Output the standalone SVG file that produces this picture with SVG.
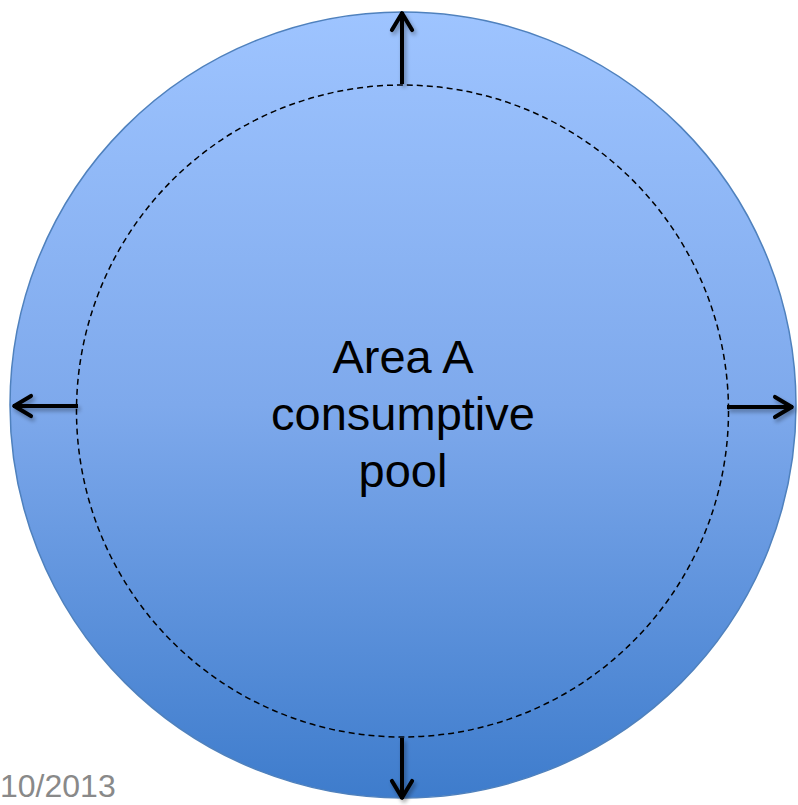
<svg xmlns="http://www.w3.org/2000/svg" width="798" height="805" viewBox="0 0 798 805">
  <defs>
    <linearGradient id="fill" x1="0" y1="0" x2="0" y2="1">
      <stop offset="0" stop-color="#9EC4FF"/>
      <stop offset="0.5" stop-color="#7EA9EC"/>
      <stop offset="1" stop-color="#3E7CCC"/>
    </linearGradient>
    <marker id="open" viewBox="0 0 12 12" refX="10.5" refY="6" markerWidth="7.2" markerHeight="7.2" markerUnits="strokeWidth" orient="auto">
      <path d="M3,1.8 L10,6 L3,10.2" fill="none" stroke="#000" stroke-width="1.7" stroke-linecap="round" stroke-linejoin="round"/>
    </marker>
    <filter id="sh" x="-20%" y="-20%" width="140%" height="140%">
      <feGaussianBlur in="SourceAlpha" stdDeviation="2"/>
      <feOffset dx="2" dy="3" result="b"/>
      <feComponentTransfer><feFuncA type="linear" slope="0.35"/></feComponentTransfer>
      <feMerge><feMergeNode/><feMergeNode in="SourceGraphic"/></feMerge>
    </filter>
    <style>
      .lbl { font-family: "Liberation Sans", Arial, sans-serif; font-size: 47px; fill: #000; text-anchor: middle; }
      .date { font-family: "Liberation Sans", Arial, sans-serif; font-size: 32px; fill: #898989; }
      .arr { stroke: #000; stroke-width: 4; fill: none; marker-end: url(#open); }
    </style>
  </defs>
  <rect width="798" height="805" fill="#fff"/>
  <g id="pool">
    <circle cx="403" cy="405" r="393" fill="url(#fill)" stroke="#4F81BD" stroke-width="1.5"/>
  </g>
  <g id="boundary">
    <circle cx="402.5" cy="411" r="326" fill="none" stroke="#000" stroke-width="1.5" stroke-dasharray="6,4"/>
  </g>
  <g id="connectors" filter="url(#sh)">
    <line class="arr" x1="402" y1="84" x2="402" y2="12"/>
    <line class="arr" x1="78" y1="406" x2="13" y2="406"/>
    <line class="arr" x1="727" y1="407" x2="793" y2="407"/>
    <line class="arr" x1="402" y1="738" x2="402" y2="799"/>
  </g>
  <g id="label">
    <text class="lbl" x="403" y="373">Area A</text>
    <text class="lbl" x="403" y="430">consumptive</text>
    <text class="lbl" x="403" y="487">pool</text>
  </g>
  <text class="date" x="0" y="797">10/2013</text>
</svg>
